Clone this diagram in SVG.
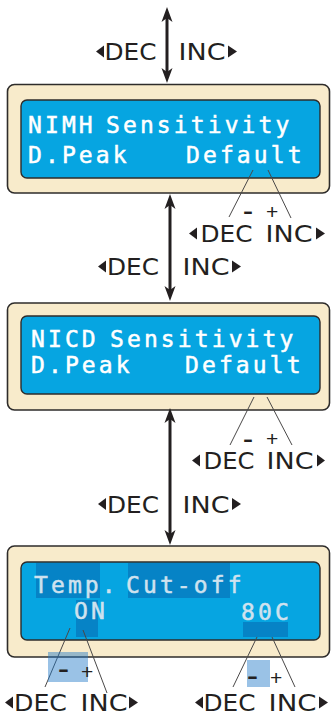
<svg xmlns="http://www.w3.org/2000/svg" width="331" height="715" viewBox="0 0 331 715">
  <style>
    .frame { fill: #f8ebcb; stroke: #2e2c2b; stroke-width: 1.6; }
    .screen { fill: #06a5e1; stroke: #2e2c2b; stroke-width: 1.4; }
    .lcd { font-family: "DejaVu Sans Mono", "Liberation Mono", monospace; font-size: 23px; letter-spacing: 3.1px; fill: #ffffff; stroke: #ffffff; stroke-width: 0.5; }
    .lcd.dim { fill: #cfe2ef; stroke: #cfe2ef; }
    .hl { fill: #0683c6; }
    .lbl { font-family: "DejaVu Sans", "Liberation Sans", sans-serif; font-size: 22.5px; fill: #231f20; }
    .tri { fill: #231f20; }
    .minus { font-family: "Liberation Sans", Arial, sans-serif; font-size: 21px; font-weight: bold; fill: #231f20; }
    .plus { font-family: "Liberation Sans", Arial, sans-serif; font-size: 21px; fill: #231f20; }
    .shaft { stroke: #231f20; stroke-width: 3; fill: none; marker-start: url(#ah); marker-end: url(#ah); }
    .lead { stroke: #4a4848; stroke-width: 1; fill: none; }
    .sel { fill: #1e78c8; fill-opacity: 0.45; }
  </style>
  <defs>
    <marker id="ah" viewBox="0 -6 15 12" markerWidth="15" markerHeight="12" refX="5" refY="0" orient="auto-start-reverse" markerUnits="userSpaceOnUse">
      <path d="M15,0 L0,-5.5 L4,0 L0,5.5 Z" fill="#231f20"/>
    </marker>
  </defs>

  <rect width="331" height="715" fill="#ffffff"/>

  <!-- Screen 1: NiMH sensitivity -->
  <g id="nimh-screen">
    <rect class="frame" x="7.5" y="84.5" width="322" height="108.5" rx="7"/>
    <rect class="screen" x="21" y="100" width="299" height="78" rx="6"/>
    <text class="lcd" x="28" y="132.5">NIMH</text>
    <text class="lcd" x="106" y="132.5">Sensitivity</text>
    <text class="lcd" x="28" y="162.5">D.Peak</text>
    <text class="lcd" x="186" y="162.5">Default</text>
  </g>

  <!-- Screen 2: NiCd sensitivity -->
  <g id="nicd-screen">
    <rect class="frame" x="7.5" y="303" width="322" height="107" rx="7"/>
    <rect class="screen" x="21" y="316" width="299" height="78" rx="6"/>
    <text class="lcd" x="31" y="347">NICD</text>
    <text class="lcd" x="110" y="347">Sensitivity</text>
    <text class="lcd" x="31" y="373">D.Peak</text>
    <text class="lcd" x="185" y="373">Default</text>
  </g>

  <!-- Screen 3: temperature cut-off -->
  <g id="temp-screen">
    <rect class="frame" x="7.5" y="546" width="322" height="111" rx="7"/>
    <rect class="screen" x="21" y="562" width="299" height="78" rx="6"/>
    <rect class="hl" x="36" y="563" width="64" height="35"/>
    <rect class="hl" x="128" y="563" width="102" height="35"/>
    <rect class="hl" x="76" y="600" width="22" height="37"/>
    <rect class="hl" x="243" y="622" width="45" height="15"/>
    <text class="lcd dim" x="34" y="593">Temp.</text>
    <text class="lcd dim" x="126" y="593">Cut-off</text>
    <text class="lcd dim" x="74" y="619">ON</text>
    <text class="lcd dim" x="241" y="620">80C</text>
  </g>

  <!-- Connectors: navigation arrows between screens and value leader lines -->
  <g id="connectors">
    <line class="shaft" x1="167" y1="17" x2="167" y2="73"/>
    <line class="shaft" x1="170" y1="204" x2="170" y2="291"/>
    <line class="shaft" x1="170" y1="418" x2="170" y2="535"/>
    <line class="lead" x1="253" y1="170" x2="229" y2="217"/>
    <line class="lead" x1="268" y1="170" x2="291" y2="218"/>
    <line class="lead" x1="254" y1="397" x2="230" y2="445"/>
    <line class="lead" x1="267" y1="397" x2="292" y2="445"/>
    <line class="lead" x1="70" y1="628" x2="45" y2="687"/>
    <line class="lead" x1="83" y1="630" x2="107" y2="693"/>
    <line class="lead" x1="257" y1="637" x2="233" y2="687"/>
    <line class="lead" x1="272" y1="637" x2="295" y2="687"/>
  </g>

  <!-- Screen navigation labels -->
  <g id="nav-label-1">
    <polygon class="tri" points="96,51.5 104,45.5 104,57.5"/>
    <text class="lbl" x="104.5" y="60" textLength="52" lengthAdjust="spacingAndGlyphs">DEC</text>
    <text class="lbl" x="178.5" y="60" textLength="47" lengthAdjust="spacingAndGlyphs">INC</text>
    <polygon class="tri" points="237,51.5 228,45.5 228,57.5"/>
  </g>
  <g id="nav-label-2">
    <polygon class="tri" points="98,266.5 106,260.5 106,272.5"/>
    <text class="lbl" x="107" y="275" textLength="52" lengthAdjust="spacingAndGlyphs">DEC</text>
    <text class="lbl" x="182.5" y="275" textLength="47" lengthAdjust="spacingAndGlyphs">INC</text>
    <polygon class="tri" points="241,266.5 232,260.5 232,272.5"/>
  </g>
  <g id="nav-label-3">
    <polygon class="tri" points="98,504 106,498 106,510"/>
    <text class="lbl" x="107" y="513" textLength="52" lengthAdjust="spacingAndGlyphs">DEC</text>
    <text class="lbl" x="182.5" y="513" textLength="47" lengthAdjust="spacingAndGlyphs">INC</text>
    <polygon class="tri" points="241,504 232,498 232,510"/>
  </g>

  <!-- Value adjust labels -->
  <g id="adjust-nimh">
    <text class="minus" x="243" y="218" textLength="10" lengthAdjust="spacingAndGlyphs">-</text>
    <text class="plus" x="266" y="219">+</text>
    <polygon class="tri" points="189,233.5 197,227.5 197,239.5"/>
    <text class="lbl" x="200.5" y="242" textLength="52" lengthAdjust="spacingAndGlyphs">DEC</text>
    <text class="lbl" x="265.5" y="242" textLength="47" lengthAdjust="spacingAndGlyphs">INC</text>
    <polygon class="tri" points="325,233.5 316,227.5 316,239.5"/>
  </g>
  <g id="adjust-nicd">
    <text class="minus" x="243" y="445.5" textLength="10" lengthAdjust="spacingAndGlyphs">-</text>
    <text class="plus" x="266" y="446">+</text>
    <polygon class="tri" points="192,460.5 200,454.5 200,466.5"/>
    <text class="lbl" x="203.5" y="469" textLength="51" lengthAdjust="spacingAndGlyphs">DEC</text>
    <text class="lbl" x="266.5" y="469" textLength="47" lengthAdjust="spacingAndGlyphs">INC</text>
    <polygon class="tri" points="325,460.5 317,454.5 317,466.5"/>
  </g>
  <g id="adjust-cutoff">
    <rect class="sel" x="48" y="652" width="40" height="30"/>
    <text class="minus" x="58" y="676" textLength="11" lengthAdjust="spacingAndGlyphs">-</text>
    <text class="plus" x="81" y="679">+</text>
    <polygon class="tri" points="5,702.5 13,696.5 13,708.5"/>
    <text class="lbl" x="14" y="711" textLength="53" lengthAdjust="spacingAndGlyphs">DEC</text>
    <text class="lbl" x="80.5" y="711" textLength="47" lengthAdjust="spacingAndGlyphs">INC</text>
    <polygon class="tri" points="138,702.5 129,696.5 129,708.5"/>
  </g>
  <g id="adjust-temp">
    <rect class="sel" x="247" y="660" width="23" height="27"/>
    <text class="minus" x="247" y="683" textLength="11" lengthAdjust="spacingAndGlyphs">-</text>
    <text class="plus" x="270" y="685">+</text>
    <polygon class="tri" points="195,702.5 203,696.5 203,708.5"/>
    <text class="lbl" x="203.5" y="711" textLength="52" lengthAdjust="spacingAndGlyphs">DEC</text>
    <text class="lbl" x="268.5" y="711" textLength="48" lengthAdjust="spacingAndGlyphs">INC</text>
    <polygon class="tri" points="328,702.5 319,696.5 319,708.5"/>
  </g>
</svg>
